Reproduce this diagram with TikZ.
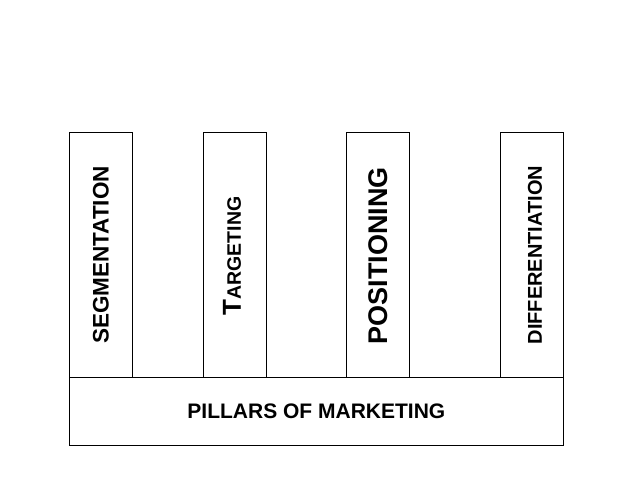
\documentclass[tikz,border=0pt]{standalone}
\usepackage{fontspec}
\setmainfont{Liberation Sans}
\begin{document}
\begin{tikzpicture}[x=1pt,y=-1pt,
  pillar/.style={draw,thick,minimum width=63pt,minimum height=245pt,anchor=north west,inner sep=0pt},
  word/.style={rotate=90,font=\bfseries}]
  \useasboundingbox (0,0) rectangle (638,479);
  %pilares
  \node[pillar] (seg) at (69,132) {};
  \node[pillar] (tar) at (203,132) {};
  \node[pillar] (pos) at (346,132) {};
  \node[pillar] (dif) at (500,132) {};
  %base
  \node[draw,thick,minimum width=494pt,minimum height=68pt,anchor=north west,inner sep=0pt] (base) at (69,377) {};
  \node[font=\bfseries\fontsize{21}{21}\selectfont] at (base.center) {PILLARS OF MARKETING};
  %textos
  \node[word,font=\bfseries\fontsize{22.5}{22}\selectfont] at (101,255) {SEGMENTATION};
  \node[word] at (232,256) {{\fontsize{26}{26}\selectfont T}{\fontsize{19.5}{20}\selectfont ARGETING}};
  \node[word,font=\bfseries\fontsize{27}{27}\selectfont] at (378,256) {POSITIONING};
  \node[word,font=\bfseries\fontsize{20}{20}\selectfont] at (535,255) {DIFFERENTIATION};
\end{tikzpicture}
\end{document}
